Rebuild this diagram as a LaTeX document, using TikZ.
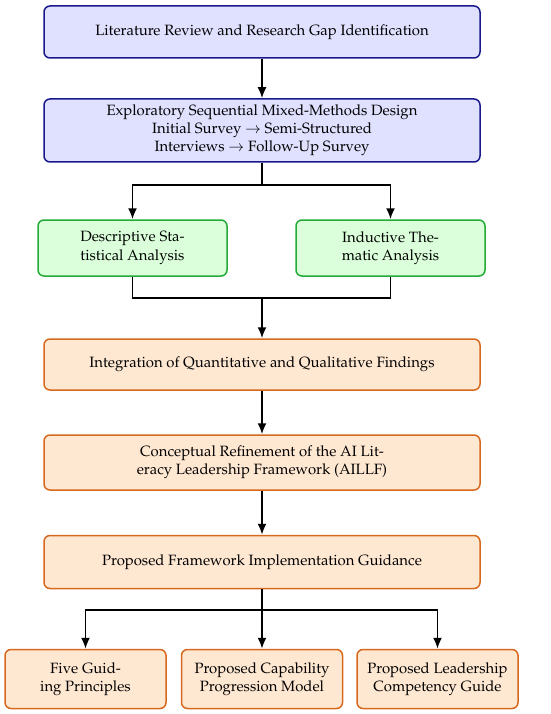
\documentclass[tikz,border=0pt]{standalone}
\usepackage[T1]{fontenc}
\usepackage{mathpazo}
\usetikzlibrary{arrows.meta}
\definecolor{bfill}{RGB}{224,224,255}
\definecolor{bdraw}{RGB}{25,25,140}
\definecolor{gfill}{RGB}{218,255,218}
\definecolor{gdraw}{RGB}{35,170,55}
\definecolor{ofill}{RGB}{255,232,210}
\definecolor{odraw}{RGB}{215,105,30}
\tikzset{
  box/.style={rectangle, rounded corners=6pt, line width=1.5pt, align=center, inner sep=0pt,
    font=\fontsize{14.9}{18.2}\selectfont},
  bluebox/.style={box, draw=bdraw, fill=bfill, minimum width=436pt},
  greenbox/.style={box, draw=gdraw, fill=gfill, minimum width=189pt, minimum height=56pt},
  orangebox/.style={box, draw=odraw, fill=ofill, minimum width=436pt},
  smallbox/.style={box, draw=odraw, fill=ofill, minimum width=161pt, minimum height=59pt},
  conn/.style={line width=1.8pt, black},
  arr/.style={conn, -{Latex[length=11pt,width=9pt]}}
}
\begin{document}
\begin{tikzpicture}[x=1pt,y=-1pt]
\useasboundingbox (0,0) rectangle (550,714);
\node[bluebox, minimum height=52pt] (b1) at (262,32) {Literature Review and Research Gap Identification};
\node[bluebox, minimum height=63pt] (b2) at (262,130.5) {Exploratory Sequential Mixed-Methods Design\\Initial Survey $\rightarrow$ Semi-Structured\\Interviews $\rightarrow$ Follow-Up Survey};
\node[greenbox] (gL) at (132.5,248) {Descriptive Sta-\\tistical Analysis};
\node[greenbox] (gR) at (390.5,248) {Inductive The-\\matic Analysis};
\node[orangebox, minimum height=51pt] (b3) at (262,364.5) {Integration of Quantitative and Qualitative Findings};
\node[orangebox, minimum height=55pt] (b4) at (262,462.5) {Conceptual Refinement of the AI Lit-\\eracy Leadership Framework (AILLF)};
\node[orangebox, minimum height=53pt] (b5) at (262,562) {Proposed Framework Implementation Guidance};
\node[smallbox] (c1) at (85.5,679) {Five Guid-\\ing Principles};
\node[smallbox] (c2) at (262,679) {Proposed Capability\\Progression Model};
\node[smallbox] (c3) at (437.5,679) {Proposed Leadership\\Competency Guide};
\coordinate (j1) at (262,185);
\coordinate (j2) at (262,298);
\coordinate (j3) at (262,610);
\draw[arr] (b1) -- (b2);
\draw[conn] (b2.south) -- (j1);
\draw[arr] (j1) -| (gL.north);
\draw[arr] (j1) -| (gR.north);
\draw[conn] (gL.south) |- (j2) -| (gR.south);
\draw[arr] (j2) -- (b3.north);
\draw[arr] (b3) -- (b4);
\draw[arr] (b4) -- (b5);
\draw[conn] (b5.south) -- (j3);
\draw[arr] (j3) -| (c1.north);
\draw[arr] (j3) -- (c2.north);
\draw[arr] (j3) -| (c3.north);
\end{tikzpicture}
\end{document}
